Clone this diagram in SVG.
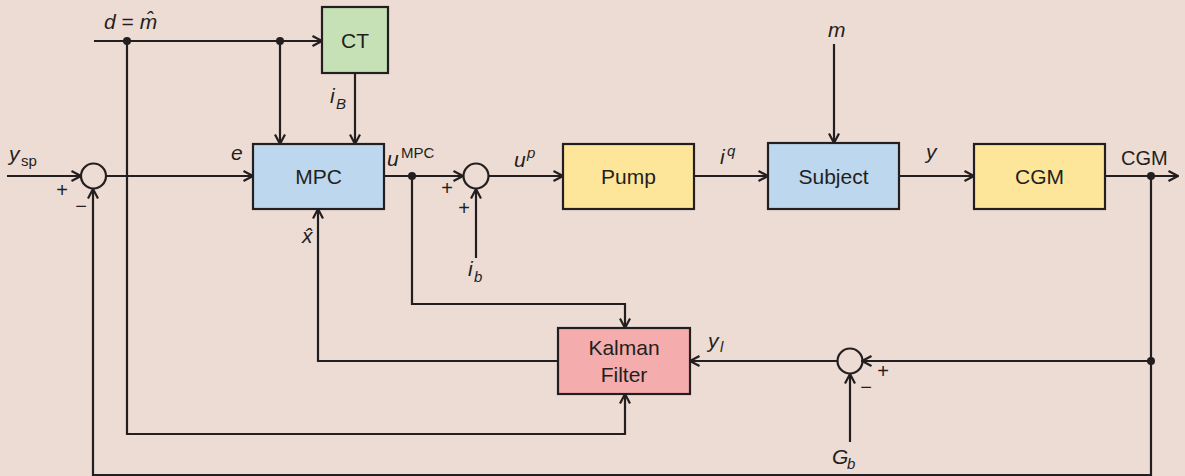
<svg xmlns="http://www.w3.org/2000/svg" width="1185" height="476" viewBox="0 0 1185 476">
<style>
.box{stroke:#231F20;stroke-width:2.2}
.bt{font-family:"Liberation Sans",Arial,sans-serif;font-size:21px;fill:#231F20;text-anchor:middle}
.lb{font-family:"Liberation Sans",Arial,sans-serif;font-size:21px;fill:#231F20;font-style:italic}
.up{font-family:"Liberation Sans",Arial,sans-serif;font-size:20px;fill:#231F20}
.sm{font-size:15px}
.sg{font-family:"Liberation Sans",Arial,sans-serif;font-size:20px;fill:#231F20;text-anchor:middle}
.ln{fill:none;stroke:#231F20;stroke-width:2.2;marker-end:url(#ah)}
.sum{fill:none;stroke:#231F20;stroke-width:2.2}
.dot{fill:#231F20}
</style>
<defs>
<marker id="ah" viewBox="0 0 12 12" refX="11" refY="6" markerWidth="12" markerHeight="12" markerUnits="userSpaceOnUse" orient="auto">
<path d="M1.5,1 L11,6 L1.5,11" fill="none" stroke="#231F20" stroke-width="2.2"/>
</marker>
</defs>
<rect x="0" y="0" width="1185" height="476" fill="#EDDCD4"/>

<g id="connectors">
<path class="ln" d="M7,176 H81"/>
<path class="ln" d="M106,176 H253"/>
<path class="ln" d="M94,41 H322"/>
<path class="ln" d="M280,41 V144"/>
<path class="ln" d="M355,73 V144"/>
<path class="ln" d="M384,176 H463"/>
<path class="ln" d="M488,176 H563"/>
<path class="ln" d="M476,258 V189"/>
<path class="ln" d="M694,176 H768"/>
<path class="ln" d="M834,44 V143"/>
<path class="ln" d="M899,176 H974"/>
<path class="ln" d="M1105,176 H1178"/>
<path class="ln" d="M1151,176 V475 H93 V189"/>
<path class="ln" d="M1151,361 H862"/>
<path class="ln" d="M837,361 H690"/>
<path class="ln" d="M850,442 V374"/>
<path class="ln" d="M558,361 H318 V209"/>
<path class="ln" d="M412,176 V304 H625 V328"/>
<path class="ln" d="M127,41 V434 H625 V394"/>
<circle class="dot" cx="127" cy="41" r="4"/>
<circle class="dot" cx="280" cy="41" r="4"/>
<circle class="dot" cx="412" cy="176" r="4"/>
<circle class="dot" cx="1151" cy="176" r="4"/>
<circle class="dot" cx="1151" cy="361" r="4"/>
</g>

<g id="sum1"><circle class="sum" cx="93.5" cy="176" r="12.5"/>
<text class="sg" x="62" y="197">+</text><text class="sg" x="81" y="213">−</text></g>
<g id="sum2"><circle class="sum" cx="476" cy="176" r="12.5"/>
<text class="sg" x="447" y="195">+</text><text class="sg" x="464" y="215">+</text></g>
<g id="sum3"><circle class="sum" cx="850" cy="361" r="12.5"/>
<text class="sg" x="883" y="378">+</text><text class="sg" x="866" y="394">−</text></g>

<g id="ct"><rect class="box" x="322" y="7" width="66" height="66" fill="#C6E1B5"/>
<text class="bt" x="355" y="48">CT</text></g>
<g id="mpc"><rect class="box" x="253" y="144" width="131" height="65" fill="#BDD7EE"/>
<text class="bt" x="318.5" y="184">MPC</text></g>
<g id="pump"><rect class="box" x="563" y="144" width="131" height="65" fill="#FDE69A"/>
<text class="bt" x="628.5" y="184">Pump</text></g>
<g id="subject"><rect class="box" x="768" y="143" width="131" height="66" fill="#BDD7EE"/>
<text class="bt" x="833.5" y="184">Subject</text></g>
<g id="cgm"><rect class="box" x="974" y="144" width="131" height="65" fill="#FDE69A"/>
<text class="bt" x="1039.5" y="184">CGM</text></g>
<g id="kalman"><rect class="box" x="558" y="328" width="132" height="66" fill="#F5ACAC"/>
<text class="bt" x="624" y="355">Kalman</text><text class="bt" x="624" y="382">Filter</text></g>

<g id="labels">
<text class="lb" x="104" y="29">d<tspan font-style="normal"> = </tspan>m̂</text>
<text class="lb" x="9" y="161">y</text><text class="up sm" x="21" y="166">sp</text>
<text class="lb" x="231" y="160">e</text>
<text class="lb" x="330" y="103">i</text><text class="lb sm" x="336" y="109">B</text>
<text class="lb" x="387" y="166">u</text><text class="up sm" x="401" y="158">MPC</text>
<text class="lb" x="514" y="167">u</text><text class="lb sm" x="527" y="158">p</text>
<text class="lb" x="468" y="276">i</text><text class="lb sm" x="474" y="282">b</text>
<text class="lb" x="720" y="164">i</text><text class="lb sm" x="727" y="156">q</text>
<text class="lb" x="926" y="159">y</text>
<text class="lb" x="828" y="37">m</text>
<text class="up" x="1121" y="165">CGM</text>
<text class="lb" x="302" y="243">x̂</text>
<text class="lb" x="708" y="348">y</text><text class="lb sm" x="720" y="352">l</text>
<text class="lb" x="832" y="464">G</text><text class="lb sm" x="847" y="469">b</text>
</g>
</svg>
